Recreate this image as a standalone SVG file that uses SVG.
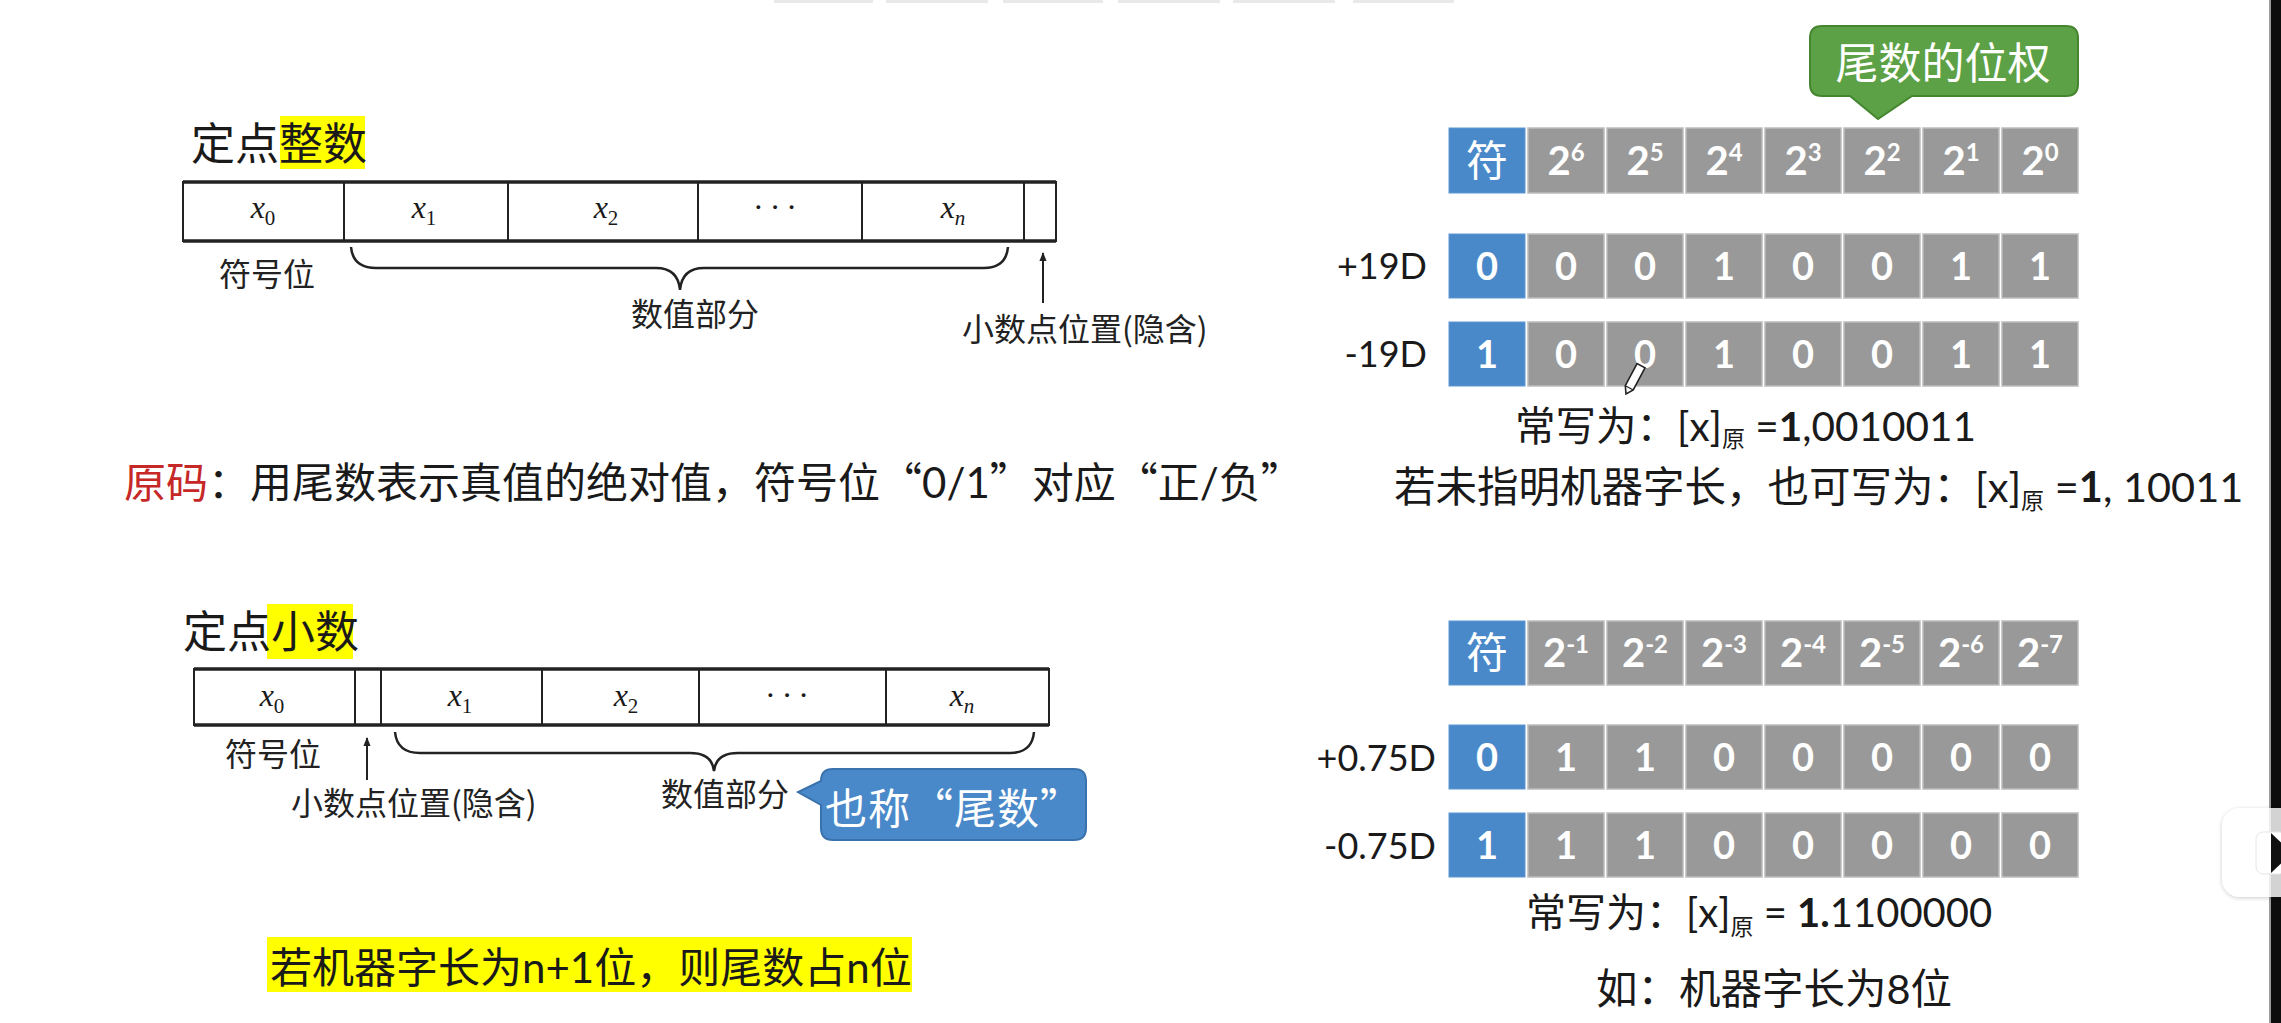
<svg xmlns="http://www.w3.org/2000/svg" width="2281" height="1023" viewBox="0 0 2281 1023">
<defs>
<style>
.cjk{font-family:'Noto Sans CJK SC',sans-serif;fill:#1a1a1a}
.lat{font-family:Lato,'Noto Sans CJK SC',sans-serif}
.ser{font-family:'Liberation Serif',serif;font-style:italic;font-size:32px;fill:#1a1a1a;text-anchor:middle}
.sub0{font-style:normal;font-size:21px}
.subi{font-size:21px}
.lbl{font-size:32px;fill:#222}
.box{fill:none;stroke:#222;stroke-width:2}
.boxh{stroke:#222;stroke-width:3.5}
.div{stroke:#222;stroke-width:2}
.brace{fill:none;stroke:#222;stroke-width:2.5}
.bl{fill:#4a89c9;stroke:#5d97d1;stroke-width:1}
.gr{fill:#999999;stroke:#bcbcbc;stroke-width:1.5}
.ct{font-family:Lato,'Noto Sans CJK SC',sans-serif;font-weight:bold;font-size:38px;fill:#fff;text-anchor:middle}
.hd{font-family:Lato,sans-serif;font-weight:bold;font-size:40px;fill:#fff;text-anchor:middle}
.sup{font-size:24px}
.fu{font-family:'Noto Sans CJK SC',sans-serif;fill:#fff;text-anchor:middle}
.rl{font-family:Lato,sans-serif;font-size:36px;fill:#1a1a1a;text-anchor:end}
.t40{font-family:'Noto Sans CJK SC',sans-serif;fill:#1a1a1a}
.sub{font-size:23px}
.b{font-weight:bold}
.hl{fill:#ffff00}
</style>
<marker id="ah" viewBox="0 0 10 10" refX="9" refY="5" markerWidth="9" markerHeight="9" markerUnits="userSpaceOnUse" orient="auto">
<path d="M0,1 L10,5 L0,9 Z" fill="#222"/>
</marker>
<filter id="sh" x="-20%" y="-20%" width="140%" height="140%">
<feDropShadow dx="0" dy="1" stdDeviation="2" flood-color="#000" flood-opacity="0.25"/>
</filter>
</defs>
<rect width="2281" height="1023" fill="#ffffff"/>

<!-- top faint tabs -->
<g id="tabs" fill="#e9e9e9">
<rect x="774" y="0" width="99" height="3"/>
<rect x="886" y="0" width="102" height="3"/>
<rect x="1003" y="0" width="100" height="3"/>
<rect x="1118" y="0" width="102" height="3"/>
<rect x="1233" y="0" width="102" height="3"/>
<rect x="1353" y="0" width="101" height="3"/>
</g>

<!-- ===== Top-left: 定点整数 ===== -->
<g id="title-int">
<rect class="hl" x="280" y="116" width="85" height="53"/>
<text class="cjk" x="191" y="160" style="font-size:44px">定点整数</text>
</g>
<g id="reg-int">
<rect class="box" x="183" y="182" width="873" height="59"/>
<line class="boxh" x1="183" y1="182" x2="1056" y2="182"/>
<line class="boxh" x1="183" y1="241" x2="1056" y2="241"/>
<line class="div" x1="344" y1="182" x2="344" y2="241"/>
<line class="div" x1="508" y1="182" x2="508" y2="241"/>
<line class="div" x1="698" y1="182" x2="698" y2="241"/>
<line class="div" x1="862" y1="182" x2="862" y2="241"/>
<line class="div" x1="1024" y1="182" x2="1024" y2="241"/>
<text class="ser" x="263" y="218">x<tspan class="sub0" dy="7">0</tspan></text>
<text class="ser" x="424" y="218">x<tspan class="sub0" dy="7">1</tspan></text>
<text class="ser" x="606" y="218">x<tspan class="sub0" dy="7">2</tspan></text>
<text class="ser" x="778" y="218" style="font-style:normal" letter-spacing="6">···</text>
<text class="ser" x="953" y="218">x<tspan class="subi" dy="7">n</tspan></text>
</g>
<g id="labels-int">
<text class="cjk lbl" x="267" y="286" text-anchor="middle">符号位</text>
<text class="cjk lbl" x="695" y="326" text-anchor="middle">数值部分</text>
<text class="cjk lbl" x="962" y="341">小数点位置(隐含)</text>
</g>

<!-- ===== Bottom-left: 定点小数 ===== -->
<g id="title-frac">
<rect class="hl" x="267" y="604" width="86" height="55"/>
<text class="cjk" x="183" y="648" style="font-size:44px">定点小数</text>
</g>
<g id="reg-frac">
<rect class="box" x="194" y="669" width="855" height="56"/>
<line class="boxh" x1="194" y1="669" x2="1049" y2="669"/>
<line class="boxh" x1="194" y1="725" x2="1049" y2="725"/>
<line class="div" x1="355" y1="669" x2="355" y2="725"/>
<line class="div" x1="381" y1="669" x2="381" y2="725"/>
<line class="div" x1="542" y1="669" x2="542" y2="725"/>
<line class="div" x1="699" y1="669" x2="699" y2="725"/>
<line class="div" x1="886" y1="669" x2="886" y2="725"/>
<text class="ser" x="272" y="706">x<tspan class="sub0" dy="7">0</tspan></text>
<text class="ser" x="460" y="706">x<tspan class="sub0" dy="7">1</tspan></text>
<text class="ser" x="626" y="706">x<tspan class="sub0" dy="7">2</tspan></text>
<text class="ser" x="790" y="706" style="font-style:normal" letter-spacing="6">···</text>
<text class="ser" x="962" y="706">x<tspan class="subi" dy="7">n</tspan></text>
</g>
<g id="labels-frac">
<text class="cjk lbl" x="273" y="766" text-anchor="middle">符号位</text>
<text class="cjk lbl" x="291" y="815">小数点位置(隐含)</text>
<text class="cjk lbl" x="725" y="806" text-anchor="middle">数值部分</text>
</g>

<!-- callout 也称“尾数” -->
<g id="callout-blue">
<path d="M833,769 H1074 Q1086,769 1086,781 V828 Q1086,840 1074,840 H833 Q821,840 821,828 V805 L798,792 L821,781 Q821,769 833,769 Z" fill="#4a89c9" stroke="#3a72ad" stroke-width="2"/>
<text class="fu" x="954" y="824" style="font-size:42px" letter-spacing="1">也称“尾数”</text>
</g>

<!-- bottom highlighted sentence -->
<g id="note-n">
<rect class="hl" x="267" y="937" width="645" height="55"/>
<text class="t40" x="270" y="983" style="font-size:42px">若机器字长为<tspan class="lat">n+1</tspan>位，则尾数占<tspan class="lat">n</tspan>位</text>
</g>

<!-- 原码 definition -->
<g id="def">
<text class="t40" x="124" y="498" style="font-size:42px"><tspan fill="#c62828">原码</tspan>：用尾数表示真值的绝对值，符号位“<tspan class="lat">0/1</tspan>”对应“正<tspan class="lat">/</tspan>负”</text>
</g>

<!-- ===== Right top: integer table ===== -->
<g id="callout-green">
<path d="M1822,26 H2066 Q2078,26 2078,38 V84 Q2078,96 2066,96 H1912 L1878,119 L1850,96 H1822 Q1810,96 1810,84 V38 Q1810,26 1822,26 Z" fill="#5da146" stroke="#44862f" stroke-width="2"/>
<text class="fu" x="1943" y="79" style="font-size:43px">尾数的位权</text>
</g>

<g id="int-header">
<rect class="bl" x="1449" y="128" width="76" height="65"/>
<rect class="gr" x="1528" y="128" width="76" height="65"/>
<rect class="gr" x="1607" y="128" width="76" height="65"/>
<rect class="gr" x="1686" y="128" width="76" height="65"/>
<rect class="gr" x="1765" y="128" width="76" height="65"/>
<rect class="gr" x="1844" y="128" width="76" height="65"/>
<rect class="gr" x="1923" y="128" width="76" height="65"/>
<rect class="gr" x="2002" y="128" width="76" height="65"/>
<text class="fu" x="1487" y="176" style="font-size:42px">符</text>
<text class="hd" x="1566" y="175">2<tspan class="sup" dy="-14">6</tspan></text>
<text class="hd" x="1645" y="175">2<tspan class="sup" dy="-14">5</tspan></text>
<text class="hd" x="1724" y="175">2<tspan class="sup" dy="-14">4</tspan></text>
<text class="hd" x="1803" y="175">2<tspan class="sup" dy="-14">3</tspan></text>
<text class="hd" x="1882" y="175">2<tspan class="sup" dy="-14">2</tspan></text>
<text class="hd" x="1961" y="175">2<tspan class="sup" dy="-14">1</tspan></text>
<text class="hd" x="2040" y="175">2<tspan class="sup" dy="-14">0</tspan></text>
</g>

<g id="int-pos">
<text class="rl" x="1427" y="279">+19D</text>
<rect class="bl" x="1449" y="234" width="76" height="64"/>
<rect class="gr" x="1528" y="234" width="76" height="64"/>
<rect class="gr" x="1607" y="234" width="76" height="64"/>
<rect class="gr" x="1686" y="234" width="76" height="64"/>
<rect class="gr" x="1765" y="234" width="76" height="64"/>
<rect class="gr" x="1844" y="234" width="76" height="64"/>
<rect class="gr" x="1923" y="234" width="76" height="64"/>
<rect class="gr" x="2002" y="234" width="76" height="64"/>
<text class="ct" x="1487" y="280">0</text>
<text class="ct" x="1566" y="280">0</text>
<text class="ct" x="1645" y="280">0</text>
<text class="ct" x="1724" y="280">1</text>
<text class="ct" x="1803" y="280">0</text>
<text class="ct" x="1882" y="280">0</text>
<text class="ct" x="1961" y="280">1</text>
<text class="ct" x="2040" y="280">1</text>
</g>

<g id="int-neg">
<text class="rl" x="1427" y="367">-19D</text>
<rect class="bl" x="1449" y="322" width="76" height="64"/>
<rect class="gr" x="1528" y="322" width="76" height="64"/>
<rect class="gr" x="1607" y="322" width="76" height="64"/>
<rect class="gr" x="1686" y="322" width="76" height="64"/>
<rect class="gr" x="1765" y="322" width="76" height="64"/>
<rect class="gr" x="1844" y="322" width="76" height="64"/>
<rect class="gr" x="1923" y="322" width="76" height="64"/>
<rect class="gr" x="2002" y="322" width="76" height="64"/>
<text class="ct" x="1487" y="368">1</text>
<text class="ct" x="1566" y="368">0</text>
<text class="ct" x="1645" y="368">0</text>
<text class="ct" x="1724" y="368">1</text>
<text class="ct" x="1803" y="368">0</text>
<text class="ct" x="1882" y="368">0</text>
<text class="ct" x="1961" y="368">1</text>
<text class="ct" x="2040" y="368">1</text>
</g>

<!-- pencil cursor -->
<g id="pencil" transform="translate(1626,394) rotate(-62)">
<path d="M0,0 L7,-4.5 L32,-4.5 L32,4.5 L7,4.5 Z" fill="#fff" stroke="#222" stroke-width="1.6"/>
<line x1="7" y1="-4.5" x2="7" y2="4.5" stroke="#222" stroke-width="1.2"/>
</g>

<g id="int-notes">
<text class="t40" x="1515" y="441" style="font-size:40.5px">常写为：<tspan class="lat">[x]</tspan><tspan class="sub" dy="6">原</tspan><tspan class="lat" dy="-6"> =</tspan><tspan class="lat b">1</tspan><tspan class="lat">,0010011</tspan></text>
<text class="t40" x="1394" y="502" style="font-size:41.5px">若未指明机器字长，也可写为：<tspan class="lat">[x]</tspan><tspan class="sub" dy="7">原</tspan><tspan class="lat" dy="-7"> =</tspan><tspan class="lat b">1</tspan><tspan class="lat">, 10011</tspan></text>
</g>

<!-- ===== Right bottom: fraction table ===== -->
<g id="frac-header">
<rect class="bl" x="1449" y="621" width="76" height="64"/>
<rect class="gr" x="1528" y="621" width="76" height="64"/>
<rect class="gr" x="1607" y="621" width="76" height="64"/>
<rect class="gr" x="1686" y="621" width="76" height="64"/>
<rect class="gr" x="1765" y="621" width="76" height="64"/>
<rect class="gr" x="1844" y="621" width="76" height="64"/>
<rect class="gr" x="1923" y="621" width="76" height="64"/>
<rect class="gr" x="2002" y="621" width="76" height="64"/>
<text class="fu" x="1487" y="668" style="font-size:42px">符</text>
<text class="hd" x="1566" y="667">2<tspan class="sup" dy="-14">-1</tspan></text>
<text class="hd" x="1645" y="667">2<tspan class="sup" dy="-14">-2</tspan></text>
<text class="hd" x="1724" y="667">2<tspan class="sup" dy="-14">-3</tspan></text>
<text class="hd" x="1803" y="667">2<tspan class="sup" dy="-14">-4</tspan></text>
<text class="hd" x="1882" y="667">2<tspan class="sup" dy="-14">-5</tspan></text>
<text class="hd" x="1961" y="667">2<tspan class="sup" dy="-14">-6</tspan></text>
<text class="hd" x="2040" y="667">2<tspan class="sup" dy="-14">-7</tspan></text>
</g>

<g id="frac-pos">
<text class="rl" x="1436" y="771">+0.75D</text>
<rect class="bl" x="1449" y="725" width="76" height="64"/>
<rect class="gr" x="1528" y="725" width="76" height="64"/>
<rect class="gr" x="1607" y="725" width="76" height="64"/>
<rect class="gr" x="1686" y="725" width="76" height="64"/>
<rect class="gr" x="1765" y="725" width="76" height="64"/>
<rect class="gr" x="1844" y="725" width="76" height="64"/>
<rect class="gr" x="1923" y="725" width="76" height="64"/>
<rect class="gr" x="2002" y="725" width="76" height="64"/>
<text class="ct" x="1487" y="771">0</text>
<text class="ct" x="1566" y="771">1</text>
<text class="ct" x="1645" y="771">1</text>
<text class="ct" x="1724" y="771">0</text>
<text class="ct" x="1803" y="771">0</text>
<text class="ct" x="1882" y="771">0</text>
<text class="ct" x="1961" y="771">0</text>
<text class="ct" x="2040" y="771">0</text>
</g>

<g id="frac-neg">
<text class="rl" x="1436" y="859">-0.75D</text>
<rect class="bl" x="1449" y="813" width="76" height="64"/>
<rect class="gr" x="1528" y="813" width="76" height="64"/>
<rect class="gr" x="1607" y="813" width="76" height="64"/>
<rect class="gr" x="1686" y="813" width="76" height="64"/>
<rect class="gr" x="1765" y="813" width="76" height="64"/>
<rect class="gr" x="1844" y="813" width="76" height="64"/>
<rect class="gr" x="1923" y="813" width="76" height="64"/>
<rect class="gr" x="2002" y="813" width="76" height="64"/>
<text class="ct" x="1487" y="859">1</text>
<text class="ct" x="1566" y="859">1</text>
<text class="ct" x="1645" y="859">1</text>
<text class="ct" x="1724" y="859">0</text>
<text class="ct" x="1803" y="859">0</text>
<text class="ct" x="1882" y="859">0</text>
<text class="ct" x="1961" y="859">0</text>
<text class="ct" x="2040" y="859">0</text>
</g>

<g id="frac-notes">
<text class="t40" x="1526" y="927" style="font-size:40px">常写为：<tspan class="lat">[x]</tspan><tspan class="sub" dy="8">原</tspan><tspan class="lat" dy="-8"> = </tspan><tspan class="lat b">1.</tspan><tspan class="lat">1100000</tspan></text>
<text class="t40" x="1596" y="1004" style="font-size:41.5px">如：机器字长为<tspan class="lat">8</tspan>位</text>
</g>

<!-- connectors: braces and arrows -->
<g id="connectors">
<path class="brace" d="M351,247 Q353,268 376,268 L656,268 Q678,268 680,290 Q682,268 704,268 L984,268 Q1006,268 1008,247"/>
<line x1="1043" y1="303" x2="1043" y2="253" stroke="#222" stroke-width="2" marker-end="url(#ah)"/>
<path class="brace" d="M395,732 Q397,753 420,753 L690,753 Q712,753 714,771 Q716,753 738,753 L1010,753 Q1032,753 1034,732"/>
<line x1="367" y1="780" x2="367" y2="738" stroke="#222" stroke-width="2" marker-end="url(#ah)"/>
</g>

<!-- right edge band and player overlay -->
<g id="edge">
<rect x="2269" y="0" width="2" height="1023" fill="#9a9a9a"/>
<rect x="2271" y="0" width="10" height="1023" fill="#0d0d0d"/>
<rect x="2248" y="793" width="10" height="22" rx="5" transform="rotate(-35 2253 804)" fill="#ffffff" opacity="0.85"/>
<rect x="2222" y="808" width="80" height="89" rx="18" fill="#ffffff" opacity="0.82" filter="url(#sh)"/>
<rect x="2256" y="832" width="30" height="42" rx="7" fill="#ffffff" stroke="#e6e6e6" stroke-width="1"/>
<polygon points="2271,833 2292,853 2271,873" fill="#111"/>
</g>
</svg>
